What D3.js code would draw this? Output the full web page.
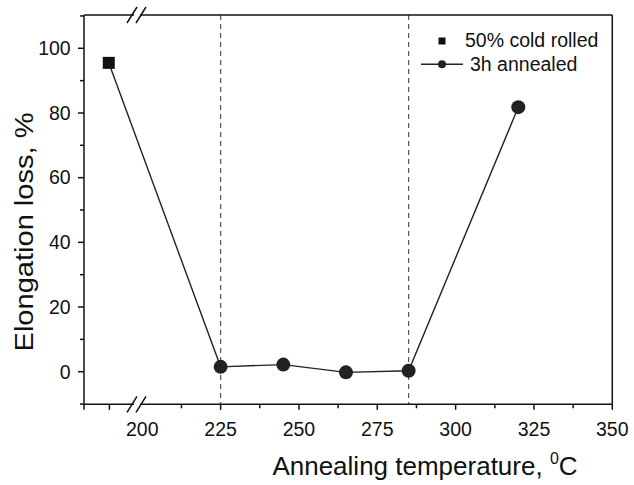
<!DOCTYPE html>
<html>
<head>
<meta charset="utf-8">
<script src="https://cdn.jsdelivr.net/npm/d3@7"></script>
<style>
  body { margin: 0; background: #fff; }
  text { font-family: "Liberation Sans", Arial, sans-serif; fill: #111; }
</style>
</head>
<body>
<div id="chart"></div>
<script>
'use strict';

// data
var rolledTemp = [189.3];
var rolledLoss = [95.5];
var annealTemp = [225, 245, 265, 285, 320];
var annealLoss = [1.5, 2.2, -0.2, 0.3, 81.8];
var xTickLabels = [200, 225, 250, 275, 300, 325, 350];
var xMinorTicks = [212.5, 237.5, 262.5, 287.5, 312.5, 337.5];
var xBreakTicks = [181.4, 189.5];
var yTickLabels = [0, 20, 40, 60, 80, 100];
var yMinorTicks = [-10, 10, 30, 50, 70, 90, 110];
var guideTemps = [225, 285];

var width = 634, height = 485;
var plotLeft = 84, plotRight = 612.3, plotTop = 15, plotBottom = 404.3;
var breakX = 137;

var svg = d3.select('#chart')
            .append('svg')
            .attr('width', width)
            .attr('height', height);

var x = d3.scaleLinear().domain([181.4, 350]).range([plotLeft, plotRight]);
var y = d3.scaleLinear().domain([0, 100]).range([371.7, 48.3]);

// dashed guides
svg.selectAll('line.guide')
   .data(guideTemps)
   .enter().append('line')
   .attr('x1', function(d) { return x(d); })
   .attr('x2', function(d) { return x(d); })
   .attr('y1', plotTop)
   .attr('y2', plotBottom)
   .attr('stroke', '#555')
   .attr('stroke-width', 1.2)
   .attr('stroke-dasharray', '5,4');

// frame: left, right, top and bottom (top/bottom with a gap for the break)
var frame = svg.append('g')
               .attr('stroke', '#111')
               .attr('stroke-width', 1.5)
               .attr('fill', 'none');

frame.append('line').attr('x1', plotLeft).attr('x2', plotLeft).attr('y1', plotTop).attr('y2', plotBottom);
frame.append('line').attr('x1', plotRight).attr('x2', plotRight).attr('y1', plotTop).attr('y2', plotBottom);
[plotTop, plotBottom].forEach(function(yy) {
  frame.append('line').attr('x1', plotLeft).attr('x2', breakX - 3).attr('y1', yy).attr('y2', yy);
  frame.append('line').attr('x1', breakX + 3).attr('x2', plotRight).attr('y1', yy).attr('y2', yy);
  // break marks
  [-5, 4].forEach(function(dx) {
    frame.append('line')
         .attr('x1', breakX + dx - 5).attr('y1', yy + 8)
         .attr('x2', breakX + dx + 5).attr('y2', yy - 8);
  });
});

// x axis ticks
var xAxis = svg.append('g')
               .attr('class', 'x-axis')
               .attr('transform', 'translate(0,' + plotBottom + ')');

xAxis.selectAll('line.major')
     .data(xTickLabels.filter(function(d) { return d > 210; }).concat(xBreakTicks))
     .enter().append('line')
     .attr('x1', function(d) { return x(d); })
     .attr('x2', function(d) { return x(d); })
     .attr('y1', 0).attr('y2', 5.5)
     .attr('stroke', '#111').attr('stroke-width', 1.5);

xAxis.selectAll('line.minor')
     .data(xMinorTicks)
     .enter().append('line')
     .attr('x1', function(d) { return x(d); })
     .attr('x2', function(d) { return x(d); })
     .attr('y1', 0).attr('y2', 4)
     .attr('stroke', '#111').attr('stroke-width', 1.5);

xAxis.selectAll('text')
     .data(xTickLabels)
     .enter().append('text')
     .attr('x', function(d) { return x(d); })
     .attr('y', 31.7)
     .attr('text-anchor', 'middle')
     .style('font-size', '19.5px')
     .text(function(d) { return d; });

// y axis ticks
var yAxis = svg.append('g').attr('class', 'y-axis');

yAxis.selectAll('line.major')
     .data(yTickLabels)
     .enter().append('line')
     .attr('x1', plotLeft - 6).attr('x2', plotLeft)
     .attr('y1', function(d) { return y(d); })
     .attr('y2', function(d) { return y(d); })
     .attr('stroke', '#111').attr('stroke-width', 1.5);

yAxis.selectAll('line.minor')
     .data(yMinorTicks)
     .enter().append('line')
     .attr('x1', plotLeft - 4).attr('x2', plotLeft)
     .attr('y1', function(d) { return y(d); })
     .attr('y2', function(d) { return y(d); })
     .attr('stroke', '#111').attr('stroke-width', 1.5);

yAxis.selectAll('text')
     .data(yTickLabels)
     .enter().append('text')
     .attr('x', plotLeft - 13.3)
     .attr('y', function(d) { return y(d) + 6.8; })
     .attr('text-anchor', 'end')
     .style('font-size', '19.5px')
     .text(function(d) { return d; });

// axis titles
svg.append('text')
   .attr('transform', 'translate(32.7,232) rotate(-90)')
   .attr('text-anchor', 'middle')
   .attr('textLength', 239)
   .attr('lengthAdjust', 'spacingAndGlyphs')
   .style('font-size', '26px')
   .text('Elongation loss, %');

var xt = svg.append('text')
            .attr('x', 425)
            .attr('y', 475)
            .attr('text-anchor', 'middle')
            .style('font-size', '26px');
xt.append('tspan').text('Annealing temperature, ');
xt.append('tspan').attr('dy', -11).style('font-size', '16px').text('0');
xt.append('tspan').attr('dy', 11).text('C');

// annealed series
var line = d3.line()
             .x(function(d) { return x(d[0]); })
             .y(function(d) { return y(d[1]); });

var lineData = [[rolledTemp[0], rolledLoss[0]]].concat(
  annealTemp.map(function(t, i) { return [t, annealLoss[i]]; }));

svg.append('path')
   .datum(lineData)
   .attr('d', line)
   .attr('fill', 'none')
   .attr('stroke', '#222')
   .attr('stroke-width', 1.4);

svg.selectAll('circle.pt')
   .data(annealTemp)
   .enter().append('circle')
   .attr('cx', function(d) { return x(d); })
   .attr('cy', function(d, i) { return y(annealLoss[i]); })
   .attr('r', 7)
   .attr('fill', '#222');

svg.selectAll('rect.pt')
   .data(rolledTemp)
   .enter().append('rect')
   .attr('x', function(d) { return x(d) - 6; })
   .attr('y', function(d, i) { return y(rolledLoss[i]) - 6; })
   .attr('width', 12)
   .attr('height', 12)
   .attr('fill', '#111');

// legend
var legend = svg.append('g').attr('transform', 'translate(442,0)');

legend.append('rect')
      .attr('x', -3.5).attr('y', 37.5)
      .attr('width', 7).attr('height', 7)
      .attr('fill', '#111');
legend.append('text')
      .attr('x', 23).attr('y', 47)
      .style('font-size', '19.5px')
      .text('50% cold rolled');

legend.append('line')
      .attr('x1', -21).attr('x2', 21)
      .attr('y1', 64.3).attr('y2', 64.3)
      .attr('stroke', '#222').attr('stroke-width', 1.4);
legend.append('circle')
      .attr('cx', 0).attr('cy', 64.3).attr('r', 4)
      .attr('fill', '#222');
legend.append('text')
      .attr('x', 28).attr('y', 71)
      .style('font-size', '19.5px')
      .text('3h annealed');
</script>
</body>
</html>
